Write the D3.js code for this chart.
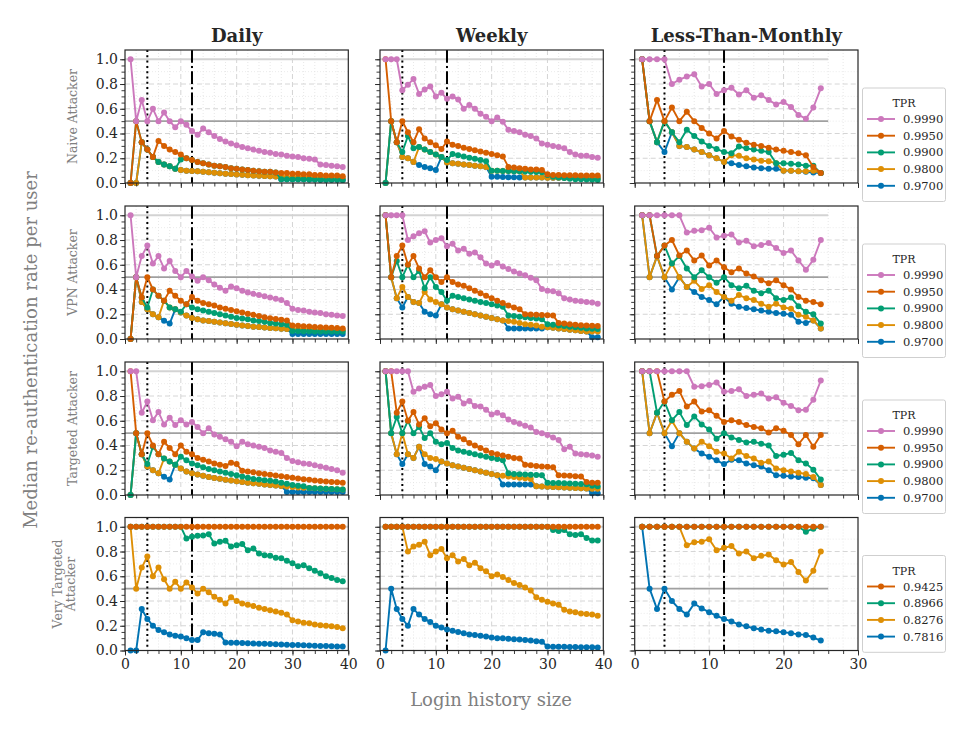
<!DOCTYPE html>
<html><head><meta charset="utf-8">
<script src="https://cdn.jsdelivr.net/npm/d3@7"></script>
<style>body{margin:0;background:#fff;} svg{display:block;font-family:"DejaVu Serif",serif;}</style>
</head><body><svg id="chart" width="976" height="733"></svg>
<script>
// ---------- categories / labels ----------
const columnTitles = ["Daily", "Weekly", "Less-Than-Monthly"];
const rowTitles = [["Naive Attacker"], ["VPN Attacker"], ["Targeted Attacker"], ["Very Targeted", "Attacker"]];
const tprMain = ["0.9990", "0.9950", "0.9900", "0.9800", "0.9700"];
const tprVeryTargeted = ["0.9425", "0.8966", "0.8276", "0.7816"];
const colorsMain = ["#cc78bc", "#d55e00", "#029e73", "#de8f05", "#0173b2"];
const colorsVeryTargeted = ["#d55e00", "#029e73", "#de8f05", "#0173b2"];
const yTickLabels = [0, 0.2, 0.4, 0.6, 0.8, 1.0];
const xTicksLong = [0, 10, 20, 30, 40];
const xTicksShort = [0, 10, 20, 30];
const loginLong = [1,2,3,4,5,6,7,8,9,10,11,12,13,14,15,16,17,18,19,20,21,22,23,24,25,26,27,28,29,30,31,32,33,34,35,36,37,38,39];
const loginShort = [1,2,3,4,5,6,7,8,9,10,11,12,13,14,15,16,17,18,19,20,21,22,23,24,25];

// ---------- Naive attacker ----------
const naiveDaily999 = [1.0,0.5,0.67,0.5,0.6,0.5,0.57,0.5,0.45,0.5, 0.47,0.42,0.39,0.44,0.41,0.38,0.355,0.335,0.32,0.305, 0.29,0.28,0.27,0.26,0.25,0.245,0.235,0.23,0.22,0.215, 0.21,0.2,0.195,0.19,0.15,0.145,0.14,0.135,0.13];
const naiveDaily995 = [0,0.5,0.33,0.27,0.21,0.34,0.3,0.27,0.25,0.23, 0.2,0.185,0.17,0.16,0.15,0.14,0.135,0.13,0.12,0.115, 0.11,0.105,0.1,0.095,0.09,0.09,0.085,0.08,0.08,0.075, 0.075,0.07,0.07,0.065,0.065,0.06,0.06,0.06,0.055];
const naiveDaily990 = [0,0.5,0.33,0.27,0.21,0.17,0.15,0.135,0.115,0.19, 0.2,0.185,0.17,0.16,0.15,0.14,0.135,0.13,0.12,0.115, 0.11,0.105,0.1,0.095,0.09,0.09,0.085,0.03,0.03,0.03, 0.03,0.03,0.028,0.028,0.027,0.027,0.026,0.026,0.025];
const naiveDaily980 = [0,0,0.33,0.27,0.21,0.17,0.15,0.135,0.115,0.105, 0.1,0.097,0.094,0.09,0.086,0.082,0.078,0.075,0.072,0.069, 0.066,0.063,0.061,0.059,0.057,0.055,0.053,0.051,0.049,0.048, 0.047,0.046,0.045,0.044,0.043,0.042,0.041,0.04,0.04];
const naiveDaily970 = [0,0,0.33,0.27,0.21,0.17,0.15,0.135,0.115,0.105, 0.1,0.097,0.094,0.09,0.086,0.082,0.078,0.075,0.072,0.069, 0.066,0.063,0.061,0.059,0.057,0.055,0.053,0.03,0.03,0.03, 0.03,0.03,0.028,0.028,0.027,0.027,0.026,0.026,0.025];

const naiveWeekly999 = [1,1,1,0.75,0.795,0.84,0.72,0.755,0.78,0.7, 0.73,0.68,0.7,0.675,0.6,0.63,0.6,0.56,0.535,0.5, 0.53,0.495,0.43,0.42,0.41,0.39,0.38,0.36,0.32,0.31, 0.3,0.29,0.28,0.25,0.23,0.22,0.22,0.21,0.205];
const naiveWeekly995 = [1,0.5,0.33,0.5,0.41,0.33,0.435,0.36,0.33,0.305, 0.275,0.335,0.31,0.3,0.285,0.275,0.265,0.255,0.245,0.235, 0.225,0.215,0.13,0.125,0.12,0.115,0.11,0.11,0.105,0.07, 0.065,0.065,0.063,0.062,0.062,0.06,0.06,0.06,0.06];
const naiveWeekly990 = [0,0.5,0.33,0.25,0.38,0.28,0.29,0.27,0.25,0.23, 0.21,0.185,0.235,0.225,0.215,0.205,0.195,0.185,0.175,0.1, 0.1,0.098,0.096,0.095,0.094,0.092,0.09,0.088,0.086,0.065, 0.05,0.045,0.04,0.035,0.03,0.03,0.028,0.026,0.025];
const naiveWeekly980 = [0,0.5,0.33,0.21,0.2,0.17,0.29,0.27,0.25,0.23, 0.21,0.165,0.16,0.155,0.15,0.145,0.14,0.135,0.13,0.1, 0.1,0.098,0.096,0.095,0.094,0.045,0.045,0.044,0.044,0.043, 0.043,0.042,0.042,0.042,0.041,0.041,0.04,0.04,0.04];
const naiveWeekly970 = [0,0.5,0.33,0.21,0.2,0.17,0.145,0.13,0.12,0.105, 0.21,0.165,0.16,0.155,0.15,0.145,0.14,0.135,0.13,0.05, 0.05,0.048,0.047,0.046,0.045,0.045,0.045,0.044,0.044,0.043, 0.043,0.042,0.042,0.042,0.041,0.041,0.04,0.04,0.04];

const naiveRare999 = [1,1,1,1,0.8,0.835,0.86,0.88,0.78,0.8, 0.72,0.75,0.77,0.715,0.75,0.69,0.71,0.67,0.635,0.655, 0.615,0.55,0.52,0.61,0.765];
const naiveRare995 = [1,0.5,0.67,0.5,0.61,0.5,0.575,0.5,0.445,0.4, 0.36,0.42,0.375,0.35,0.325,0.31,0.3,0.285,0.27,0.26, 0.25,0.24,0.225,0.13,0.08];
const naiveRare990 = [1,0.5,0.33,0.5,0.41,0.33,0.43,0.38,0.335,0.3, 0.275,0.25,0.24,0.295,0.28,0.27,0.26,0.25,0.16,0.16, 0.155,0.15,0.14,0.14,0.08];
const naiveRare980 = [1,0.5,0.33,0.5,0.41,0.3,0.29,0.27,0.25,0.225, 0.2,0.17,0.225,0.22,0.2,0.19,0.18,0.175,0.16,0.1, 0.1,0.095,0.095,0.1,0.08];
const naiveRare970 = [1,0.5,0.33,0.25,0.41,0.3,0.29,0.27,0.25,0.225, 0.2,0.17,0.16,0.145,0.135,0.125,0.12,0.115,0.115,0.1, 0.1,0.095,0.09,0.085,0.08];

// ---------- VPN attacker ----------
const vpnDaily999 = [1,0.5,0.67,0.755,0.61,0.67,0.57,0.63,0.55,0.5, 0.55,0.505,0.47,0.5,0.475,0.44,0.415,0.39,0.425,0.41, 0.39,0.375,0.365,0.355,0.345,0.335,0.325,0.315,0.29,0.245, 0.235,0.23,0.22,0.215,0.21,0.2,0.195,0.19,0.185];
const vpnDaily995 = [0,0.5,0.335,0.5,0.4,0.35,0.31,0.39,0.35,0.31, 0.28,0.34,0.31,0.29,0.28,0.27,0.255,0.245,0.235,0.225, 0.215,0.205,0.195,0.185,0.175,0.168,0.162,0.156,0.15,0.11, 0.107,0.104,0.101,0.098,0.095,0.093,0.091,0.088,0.085];
const vpnDaily990 = [0,0.5,0.335,0.255,0.4,0.35,0.31,0.255,0.24,0.22, 0.28,0.255,0.24,0.23,0.22,0.21,0.2,0.19,0.18,0.17, 0.165,0.16,0.15,0.145,0.14,0.13,0.125,0.12,0.115,0.065, 0.064,0.063,0.062,0.061,0.06,0.06,0.06,0.06,0.06];
const vpnDaily980 = [0,0.5,0.3,0.24,0.2,0.175,0.31,0.255,0.24,0.215, 0.19,0.17,0.16,0.15,0.145,0.14,0.133,0.127,0.121,0.115, 0.11,0.105,0.1,0.096,0.092,0.089,0.086,0.083,0.08,0.078, 0.076,0.075,0.074,0.073,0.072,0.071,0.07,0.07,0.07];
const vpnDaily970 = [0,0.5,0.3,0.24,0.2,0.175,0.148,0.125,0.24,0.215, 0.19,0.17,0.16,0.15,0.145,0.14,0.133,0.127,0.121,0.115, 0.11,0.105,0.1,0.096,0.092,0.089,0.086,0.083,0.08,0.04, 0.04,0.04,0.04,0.04,0.04,0.04,0.04,0.04,0.04];

const vpnWeekly999 = [1,1,1,1,0.8,0.83,0.855,0.87,0.78,0.8, 0.815,0.75,0.77,0.715,0.73,0.69,0.7,0.66,0.61,0.595, 0.615,0.585,0.565,0.545,0.53,0.515,0.495,0.475,0.405,0.39, 0.385,0.37,0.33,0.32,0.31,0.305,0.3,0.295,0.285];
const vpnWeekly995 = [1,0.5,0.67,0.755,0.6,0.67,0.57,0.5,0.555,0.5, 0.46,0.5,0.46,0.44,0.43,0.41,0.39,0.37,0.35,0.33, 0.31,0.29,0.27,0.255,0.24,0.2,0.198,0.196,0.194,0.192, 0.19,0.13,0.125,0.12,0.115,0.112,0.11,0.108,0.105];
const vpnWeekly990 = [1,0.5,0.63,0.5,0.6,0.5,0.55,0.41,0.5,0.42, 0.38,0.31,0.35,0.34,0.33,0.32,0.31,0.3,0.29,0.28, 0.27,0.26,0.19,0.185,0.18,0.175,0.17,0.165,0.16,0.12, 0.115,0.11,0.105,0.1,0.095,0.09,0.085,0.082,0.08];
const vpnWeekly980 = [1,0.5,0.33,0.42,0.34,0.3,0.29,0.38,0.32,0.3, 0.28,0.255,0.24,0.23,0.22,0.21,0.2,0.19,0.18,0.17, 0.16,0.15,0.145,0.14,0.13,0.12,0.115,0.11,0.1,0.095, 0.09,0.085,0.08,0.075,0.07,0.065,0.06,0.06,0.06];
const vpnWeekly970 = [1,0.5,0.33,0.255,0.34,0.3,0.29,0.22,0.2,0.19, 0.28,0.255,0.24,0.23,0.22,0.21,0.2,0.19,0.18,0.17, 0.16,0.15,0.085,0.085,0.085,0.085,0.085,0.085,0.085,0.095, 0.09,0.085,0.08,0.075,0.07,0.065,0.06,0.015,0.015];

const vpnRare999 = [1,1,1,1,1,1,0.86,0.875,0.88,0.9, 0.82,0.835,0.845,0.78,0.795,0.75,0.76,0.775,0.735,0.695, 0.715,0.635,0.56,0.64,0.8];
const vpnRare995 = [1,1,0.67,0.755,0.8,0.675,0.715,0.635,0.675,0.595, 0.635,0.58,0.54,0.57,0.53,0.505,0.475,0.45,0.475,0.435, 0.4,0.34,0.31,0.3,0.28];
const vpnRare990 = [1,1,0.67,0.755,0.61,0.67,0.57,0.5,0.555,0.5, 0.455,0.5,0.435,0.41,0.43,0.39,0.37,0.39,0.33,0.315, 0.335,0.265,0.22,0.2,0.125];
const vpnRare980 = [1,0.5,0.67,0.5,0.61,0.5,0.42,0.47,0.405,0.435, 0.38,0.34,0.31,0.355,0.33,0.315,0.285,0.26,0.285,0.255, 0.245,0.195,0.18,0.15,0.085];
const vpnRare970 = [1,0.5,0.67,0.5,0.4,0.5,0.42,0.38,0.34,0.315, 0.28,0.34,0.285,0.26,0.25,0.24,0.23,0.22,0.21,0.205, 0.195,0.14,0.13,0.15,0.085];

// ---------- Targeted attacker ----------
const tgtDaily999 = [1,1,0.665,0.755,0.605,0.67,0.57,0.625,0.565,0.605, 0.57,0.59,0.55,0.5,0.54,0.49,0.47,0.45,0.43,0.395, 0.43,0.41,0.4,0.39,0.38,0.36,0.35,0.34,0.3,0.275, 0.265,0.255,0.25,0.24,0.23,0.22,0.21,0.2,0.18];
const tgtDaily995 = [1,0.5,0.33,0.5,0.4,0.33,0.43,0.38,0.33,0.4, 0.35,0.33,0.3,0.285,0.27,0.255,0.245,0.235,0.26,0.25, 0.195,0.19,0.183,0.176,0.17,0.164,0.158,0.152,0.146,0.14, 0.134,0.128,0.123,0.118,0.114,0.11,0.106,0.103,0.1];
const tgtDaily990 = [0,0.5,0.33,0.25,0.39,0.33,0.295,0.27,0.245,0.31, 0.28,0.255,0.24,0.225,0.21,0.2,0.19,0.18,0.17,0.16, 0.15,0.14,0.13,0.125,0.12,0.115,0.11,0.1,0.09,0.08, 0.075,0.07,0.056,0.054,0.052,0.05,0.048,0.046,0.045];
const tgtDaily980 = [0,0.5,0.33,0.23,0.2,0.175,0.295,0.27,0.245,0.215, 0.19,0.175,0.165,0.155,0.145,0.138,0.131,0.124,0.118,0.112, 0.106,0.1,0.095,0.09,0.085,0.08,0.076,0.072,0.068,0.064, 0.061,0.058,0.056,0.054,0.052,0.05,0.048,0.046,0.045];
const tgtDaily970 = [0,0.5,0.33,0.23,0.2,0.175,0.148,0.125,0.245,0.215, 0.19,0.175,0.165,0.155,0.145,0.138,0.131,0.124,0.118,0.112, 0.106,0.1,0.095,0.09,0.085,0.08,0.076,0.072,0.025,0.025, 0.025,0.025,0.025,0.025,0.025,0.025,0.025,0.025,0.025];

const tgtWeekly999 = [1,1,1,1,1,0.835,0.86,0.875,0.89,0.8, 0.815,0.835,0.78,0.795,0.74,0.76,0.72,0.715,0.69,0.65, 0.665,0.645,0.61,0.59,0.575,0.56,0.545,0.51,0.5,0.485, 0.465,0.445,0.37,0.39,0.335,0.33,0.325,0.32,0.31];
const tgtWeekly995 = [1,1,0.665,0.755,0.6,0.67,0.57,0.62,0.555,0.58, 0.53,0.5,0.52,0.47,0.45,0.42,0.4,0.38,0.36,0.34, 0.33,0.32,0.31,0.3,0.295,0.245,0.24,0.235,0.23,0.228, 0.225,0.16,0.158,0.155,0.152,0.15,0.105,0.1,0.1];
const tgtWeekly990 = [1,0.5,0.63,0.5,0.6,0.5,0.55,0.46,0.5,0.43, 0.41,0.42,0.38,0.36,0.35,0.34,0.33,0.32,0.31,0.3, 0.29,0.28,0.175,0.17,0.168,0.166,0.164,0.162,0.16,0.1, 0.098,0.096,0.094,0.092,0.09,0.088,0.086,0.075,0.07];
const tgtWeekly980 = [1,0.5,0.33,0.5,0.33,0.3,0.39,0.33,0.3,0.29, 0.27,0.255,0.24,0.23,0.22,0.21,0.2,0.19,0.18,0.17, 0.16,0.155,0.15,0.145,0.14,0.135,0.13,0.07,0.068,0.066, 0.064,0.062,0.06,0.058,0.056,0.054,0.052,0.05,0.05];
const tgtWeekly970 = [1,0.5,0.33,0.25,0.33,0.3,0.39,0.25,0.23,0.2, 0.27,0.255,0.24,0.23,0.22,0.21,0.2,0.19,0.18,0.17, 0.16,0.085,0.085,0.085,0.085,0.085,0.085,0.07,0.068,0.066, 0.064,0.062,0.06,0.058,0.056,0.054,0.052,0.015,0.015];

const tgtRare999 = [1,1,1,1,1,1,1,0.875,0.88,0.89, 0.91,0.835,0.84,0.855,0.8,0.81,0.82,0.78,0.79,0.745, 0.72,0.685,0.69,0.77,0.925];
const tgtRare995 = [1,1,1,0.755,0.81,0.84,0.715,0.755,0.675,0.685, 0.64,0.59,0.605,0.59,0.565,0.55,0.54,0.505,0.54,0.52, 0.485,0.41,0.485,0.39,0.485];
const tgtRare990 = [1,1,0.665,0.755,0.605,0.67,0.565,0.635,0.57,0.53, 0.455,0.5,0.465,0.445,0.425,0.43,0.415,0.4,0.315,0.325, 0.34,0.28,0.255,0.205,0.125];
const tgtRare980 = [1,0.5,0.665,0.5,0.6,0.5,0.43,0.375,0.43,0.395, 0.35,0.335,0.295,0.35,0.315,0.295,0.26,0.27,0.215,0.2, 0.19,0.18,0.17,0.145,0.08];
const tgtRare970 = [1,0.5,0.665,0.5,0.395,0.5,0.43,0.375,0.335,0.31, 0.28,0.25,0.285,0.28,0.255,0.24,0.23,0.2,0.16,0.155, 0.15,0.145,0.14,0.135,0.08];

// ---------- Very targeted attacker ----------
const vtDaily9425 = [1,1,1,1,1,1,1,1,1,1, 1,1,1,1,1,1,1,1,1,1, 1,1,1,1,1,1,1,1,1,1, 1,1,1,1,1,1,1,1,1];
const vtDaily8966 = [1,1,1,1,1,1,1,1,1,1, 0.905,0.92,0.927,0.93,0.94,0.865,0.88,0.887,0.84,0.85, 0.86,0.81,0.825,0.785,0.77,0.765,0.75,0.745,0.725,0.705, 0.68,0.69,0.665,0.645,0.625,0.6,0.585,0.57,0.56];
const vtDaily8276 = [1,0.5,0.67,0.76,0.6,0.67,0.575,0.5,0.555,0.5, 0.55,0.51,0.46,0.5,0.47,0.435,0.41,0.38,0.43,0.4, 0.38,0.37,0.36,0.345,0.335,0.325,0.315,0.305,0.29,0.245, 0.235,0.225,0.22,0.21,0.205,0.2,0.195,0.19,0.18];
const vtDaily7816 = [0,0,0.335,0.255,0.2,0.165,0.148,0.13,0.12,0.113, 0.1,0.085,0.085,0.148,0.14,0.135,0.13,0.065,0.063,0.062, 0.06,0.058,0.057,0.055,0.054,0.052,0.05,0.048,0.047,0.045, 0.044,0.042,0.04,0.039,0.037,0.036,0.035,0.033,0.032];

const vtWeekly9425 = [1,1,1,1,1,1,1,1,1,1, 1,1,1,1,1,1,1,1,1,1, 1,1,1,1,1,1,1,1,1,1, 1,1,1,1,1,1,1,1,1];
const vtWeekly8966 = [1,1,1,1,1,1,1,1,1,1, 1,1,1,1,1,1,1,1,1,1, 1,1,1,1,1,1,1,1,1,1, 0.973,0.965,0.973,0.94,0.933,0.94,0.91,0.89,0.89];
const vtWeekly8276 = [1,1,1,1,0.8,0.84,0.855,0.88,0.77,0.8, 0.82,0.745,0.77,0.72,0.74,0.69,0.71,0.665,0.64,0.6, 0.615,0.595,0.57,0.545,0.53,0.51,0.485,0.43,0.41,0.395, 0.38,0.37,0.33,0.315,0.31,0.3,0.295,0.29,0.28];
const vtWeekly7816 = [0,0.5,0.335,0.255,0.2,0.335,0.29,0.255,0.23,0.2, 0.185,0.17,0.16,0.15,0.14,0.13,0.125,0.12,0.113,0.105, 0.1,0.1,0.095,0.09,0.088,0.085,0.08,0.075,0.07,0.032, 0.03,0.03,0.03,0.028,0.028,0.027,0.027,0.026,0.025];

const vtRare9425 = [1,1,1,1,1,1,1,1,1,1, 1,1,1,1,1,1,1,1,1,1, 1,1,1,1,1];
const vtRare8966 = [1,1,1,1,1,1,1,1,1,1, 1,1,1,1,1,1,1,1,1,1, 1,1,0.96,0.985,1];
const vtRare8276 = [1,1,1,1,1,1,0.85,0.875,0.88,0.9, 0.81,0.83,0.845,0.785,0.8,0.745,0.765,0.775,0.73,0.695, 0.715,0.635,0.565,0.645,0.8];
const vtRare7816 = [1,0.5,0.335,0.5,0.4,0.335,0.29,0.38,0.34,0.31, 0.28,0.255,0.235,0.21,0.195,0.18,0.17,0.16,0.155,0.148, 0.14,0.13,0.126,0.105,0.08];

// ---------- panel table built from the arrays ----------
const panelSeries = [
  [[naiveDaily999,naiveDaily995,naiveDaily990,naiveDaily980,naiveDaily970],
   [naiveWeekly999,naiveWeekly995,naiveWeekly990,naiveWeekly980,naiveWeekly970],
   [naiveRare999,naiveRare995,naiveRare990,naiveRare980,naiveRare970]],
  [[vpnDaily999,vpnDaily995,vpnDaily990,vpnDaily980,vpnDaily970],
   [vpnWeekly999,vpnWeekly995,vpnWeekly990,vpnWeekly980,vpnWeekly970],
   [vpnRare999,vpnRare995,vpnRare990,vpnRare980,vpnRare970]],
  [[tgtDaily999,tgtDaily995,tgtDaily990,tgtDaily980,tgtDaily970],
   [tgtWeekly999,tgtWeekly995,tgtWeekly990,tgtWeekly980,tgtWeekly970],
   [tgtRare999,tgtRare995,tgtRare990,tgtRare980,tgtRare970]],
  [[vtDaily9425,vtDaily8966,vtDaily8276,vtDaily7816],
   [vtWeekly9425,vtWeekly8966,vtWeekly8276,vtWeekly7816],
   [vtRare9425,vtRare8966,vtRare8276,vtRare7816]]
];
const colXs = [loginLong, loginLong, loginShort];
const colXMax = [40, 40, 30];

// ---------- layout ----------
const svg = d3.select("#chart");
const colLeft = [125, 380, 634.7], panelW = 223.3;
const rowTop = [50, 206, 362, 517.5], panelH = 133;
const textColor = "#262626";

rowTitles.forEach((rt, r) => {
  panelSeries[r].forEach((seriesList, c) => {
    const x0 = colLeft[c], y0 = rowTop[r];
    const xMax = colXMax[c];
    const xs = colXs[c];
    const x = d3.scaleLinear().domain([0, xMax]).range([x0, x0 + panelW]);
    const y = d3.scaleLinear().domain([0, 1.075]).range([y0 + panelH, y0]);
    const g = svg.append("g");

    g.selectAll(".mgx").data(d3.range(2, xMax, 2).filter(v => v % 10 !== 0)).join("line")
      .attr("x1", d => x(d)).attr("x2", d => x(d)).attr("y1", y0).attr("y2", y0 + panelH)
      .attr("stroke", "#dcdcdc").attr("stroke-width", 0.7).attr("stroke-dasharray", "1,2");
    g.selectAll(".mgy").data([0.1, 0.3, 0.5, 0.7, 0.9]).join("line")
      .attr("x1", x0).attr("x2", x0 + panelW).attr("y1", d => y(d)).attr("y2", d => y(d))
      .attr("stroke", "#e2e2e2").attr("stroke-width", 0.7).attr("stroke-dasharray", "1,2");
    g.selectAll(".gx").data(d3.range(10, xMax, 10)).join("line")
      .attr("x1", d => x(d)).attr("x2", d => x(d)).attr("y1", y0).attr("y2", y0 + panelH)
      .attr("stroke", "#d0d0d0").attr("stroke-width", 0.9).attr("stroke-dasharray", "5,3");
    g.selectAll(".gy").data([0.2, 0.4, 0.6, 0.8]).join("line")
      .attr("x1", x0).attr("x2", x0 + panelW).attr("y1", d => y(d)).attr("y2", d => y(d))
      .attr("stroke", "#d0d0d0").attr("stroke-width", 0.9).attr("stroke-dasharray", "5,3");

    const hEnd = d3.max(xs) + 1;
    g.append("line").attr("x1", x(0)).attr("x2", x(hEnd)).attr("y1", y(1)).attr("y2", y(1))
      .attr("stroke", "#d3d3d3").attr("stroke-width", 2);
    g.append("line").attr("x1", x(0)).attr("x2", x(hEnd)).attr("y1", y(0.5)).attr("y2", y(0.5))
      .attr("stroke", "#a0a0a0").attr("stroke-width", 1.6);

    g.append("line").attr("x1", x(4)).attr("x2", x(4)).attr("y1", y0).attr("y2", y0 + panelH)
      .attr("stroke", "#000").attr("stroke-width", 2).attr("stroke-dasharray", "2,3.3");
    g.append("line").attr("x1", x(12)).attr("x2", x(12)).attr("y1", y0).attr("y2", y0 + panelH)
      .attr("stroke", "#000").attr("stroke-width", 2).attr("stroke-dasharray", "12.8,3.2,2,3.2");

    const colors = r === 3 ? colorsVeryTargeted : colorsMain;
    const line = d3.line().x((d, i) => x(xs[i])).y(d => y(d));
    for (let s = seriesList.length - 1; s >= 0; s--) {
      const vals = seriesList[s];
      g.append("path").attr("d", line(vals)).attr("fill", "none")
        .attr("stroke", colors[s]).attr("stroke-width", 1.9).attr("stroke-linejoin", "round");
      g.selectAll(null).data(vals).join("circle")
        .attr("cx", (d, i) => x(xs[i])).attr("cy", d => y(d)).attr("r", 3)
        .attr("fill", colors[s]);
    }

    const yMajor = d3.axisLeft(y).tickValues(yTickLabels).tickSize(5)
      .tickFormat(c === 0 ? d3.format(".1f") : () => "");
    const yMinor = d3.axisLeft(y).tickValues(d3.range(0, 21).map(k => k * 0.05)).tickSize(3.5).tickFormat(() => "");
    const ga = g.append("g").attr("transform", `translate(${x0},0)`).call(yMajor);
    const gm = g.append("g").attr("transform", `translate(${x0},0)`).call(yMinor);
    const xTickVals = c === 2 ? xTicksShort : xTicksLong;
    const xMajor = d3.axisBottom(x).tickValues(xTickVals).tickSize(5)
      .tickFormat(r === 3 ? d3.format("d") : () => "");
    const xMinor = d3.axisBottom(x).tickValues(d3.range(0, xMax + 1, 2)).tickSize(3.5).tickFormat(() => "");
    const gx = g.append("g").attr("transform", `translate(0,${y0 + panelH})`).call(xMajor);
    const gxm = g.append("g").attr("transform", `translate(0,${y0 + panelH})`).call(xMinor);
    [ga, gm, gx, gxm].forEach(a => {
      a.select(".domain").remove();
      a.selectAll("line").attr("stroke", textColor).attr("stroke-width", 0.9);
      a.selectAll("text").attr("fill", textColor).attr("font-family", "DejaVu Serif")
        .attr("font-size", 14);
    });
    ga.selectAll("text").attr("x", -7);
    gx.selectAll("text").attr("y", 9);

    g.append("rect").attr("x", x0).attr("y", y0).attr("width", panelW).attr("height", panelH)
      .attr("fill", "none").attr("stroke", textColor).attr("stroke-width", 1.2);

    if (r === 0) {
      svg.append("text").attr("x", x0 + panelW / 2).attr("y", 42).attr("text-anchor", "middle")
        .attr("font-weight", "bold").attr("font-size", 18).attr("fill", textColor).text(columnTitles[c]);
    }
  });

  const cy = rowTop[r] + panelH / 2;
  const rtG = svg.append("text").attr("transform", `translate(${rt.length > 1 ? 75 : 77},${cy}) rotate(-90)`)
    .attr("text-anchor", "middle").attr("font-size", 12.5).attr("fill", "#808080");
  rt.forEach((t, i) => {
    rtG.append("tspan").attr("x", 0).attr("dy", i === 0 ? -(rt.length - 1) * 13 : 13).text(t);
  });

  // legend, anchored by its upper edge at the same relative height in every row
  const labels = r === 3 ? tprVeryTargeted : tprMain;
  const lcolors = r === 3 ? colorsVeryTargeted : colorsMain;
  const step = 16.7;
  const boxH = 30 + labels.length * step;
  const boxTop = rowTop[r] + 38;
  const lg = svg.append("g");
  lg.append("rect").attr("x", 862.5).attr("y", boxTop).attr("width", 83).attr("height", boxH)
    .attr("rx", 2).attr("fill", "#fff").attr("fill-opacity", 0.8).attr("stroke", "#cfcfcf").attr("stroke-width", 1);
  lg.append("text").attr("x", 904).attr("y", boxTop + 19).attr("text-anchor", "middle")
    .attr("font-size", 11).attr("fill", textColor).text("TPR");
  labels.forEach((lab, i) => {
    const ly = boxTop + 31 + i * step;
    lg.append("line").attr("x1", 867).attr("x2", 895).attr("y1", ly).attr("y2", ly)
      .attr("stroke", lcolors[i]).attr("stroke-width", 1.9);
    lg.append("circle").attr("cx", 881).attr("cy", ly).attr("r", 3).attr("fill", lcolors[i]);
    lg.append("text").attr("x", 903).attr("y", ly + 4).attr("font-size", 11.5)
      .attr("fill", textColor).text(lab);
  });
});

svg.append("text").attr("transform", `translate(37,350) rotate(-90)`).attr("text-anchor", "middle")
  .attr("font-size", 18).attr("fill", "#808080").text("Median re-authentication rate per user");
svg.append("text").attr("x", 491).attr("y", 706).attr("text-anchor", "middle")
  .attr("font-size", 18).attr("fill", "#808080").text("Login history size");
</script></body></html>
